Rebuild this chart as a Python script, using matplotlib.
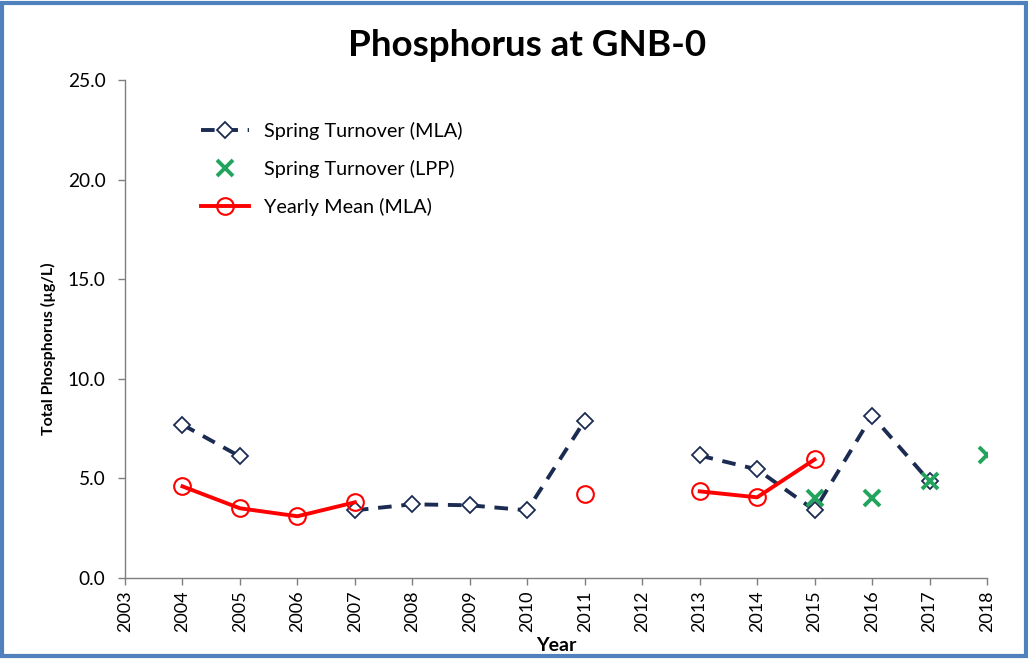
import matplotlib
matplotlib.use("Agg")
import matplotlib.pyplot as plt
import numpy as np
from matplotlib.patches import Rectangle

years_mla = [2004, 2005, 2006, 2007, 2008, 2009, 2010, 2011, 2012, 2013, 2014, 2015, 2016, 2017]
spring_mla = [7.7, 6.1, np.nan, 3.4, 3.7, 3.65, 3.4, 7.9, np.nan, 6.15, 5.45, 3.4, 8.15, 4.85]

years_lpp = [2015, 2016, 2017, 2018]
spring_lpp = [4.0, 4.0, 4.85, 6.2]

years_mean = [2004, 2005, 2006, 2007, 2008, 2009, 2010, 2011, 2012, 2013, 2014, 2015]
yearly_mean = [4.6, 3.5, 3.1, 3.8, np.nan, np.nan, np.nan, 4.2, np.nan, 4.35, 4.05, 5.95]

xticks = list(range(2003, 2019))
yticks = [0, 5, 10, 15, 20, 25]

plt.rcParams['font.family'] = ['Lato', 'DejaVu Sans']

fig = plt.figure(figsize=(10.28, 6.59), dpi=100)
ax = fig.add_axes([0.1216, 0.1229, 0.8385, 0.7557])

navy = '#1c2b52'
green = '#22a45d'
red = '#ff0000'

ax.plot(years_mla, spring_mla, color=navy, lw=2.8, linestyle=(0, (3.5, 2.5)),
        marker='D', markersize=8, markerfacecolor='white', markeredgecolor=navy,
        markeredgewidth=1.3, label='Spring Turnover (MLA)', zorder=3)
ax.plot(years_lpp, spring_lpp, linestyle='none', marker='x', markersize=11,
        markeredgewidth=2.8, color=green, label='Spring Turnover (LPP)', zorder=4)
ax.plot(years_mean, yearly_mean, color=red, lw=2.8, marker='o', markersize=12,
        markerfacecolor='none', markeredgecolor=red, markeredgewidth=1.5,
        label='Yearly Mean (MLA)', zorder=3)

ax.set_xlim(2003, 2018)
ax.set_ylim(0, 25)
ax.set_xticks(xticks)
ax.set_xticklabels([str(x) for x in xticks], rotation=90, fontsize=13)
ax.set_yticks(yticks)
ax.set_yticklabels([f"{y:.1f}" for y in yticks], fontsize=13.8)
for s in ['top', 'right']:
    ax.spines[s].set_visible(False)
for s in ['left', 'bottom']:
    ax.spines[s].set_color('#7f7f7f')
    ax.spines[s].set_linewidth(1.0)
ax.tick_params(axis='both', direction='out', length=5, color='#7f7f7f', width=1.0)
ax.tick_params(axis='y', pad=9)
ax.tick_params(axis='x', pad=4)

ax.set_ylabel('Total Phosphorus (µg/L)', fontsize=11.5, fontweight='bold')
ax.yaxis.set_label_coords(-0.080, 0.46)
ax.set_xlabel('Year', fontsize=14, fontweight='bold')
ax.xaxis.set_label_coords(0.5, -0.118)

fig.text(0.513, 0.931, 'Phosphorus at GNB-0', ha='center', va='center',
         fontsize=26.5, fontweight='bold')

leg = ax.legend(loc='upper left', bbox_to_anchor=(0.068, 0.952), frameon=False,
                fontsize=14.3, handlelength=2.4, labelspacing=1.0, handletextpad=0.75)

fig.patches.append(Rectangle((0.002, 0.004), 0.996, 0.992, transform=fig.transFigure,
                             fill=False, edgecolor='#4f81bd', linewidth=3))

fig.savefig('out.png', dpi=100)
